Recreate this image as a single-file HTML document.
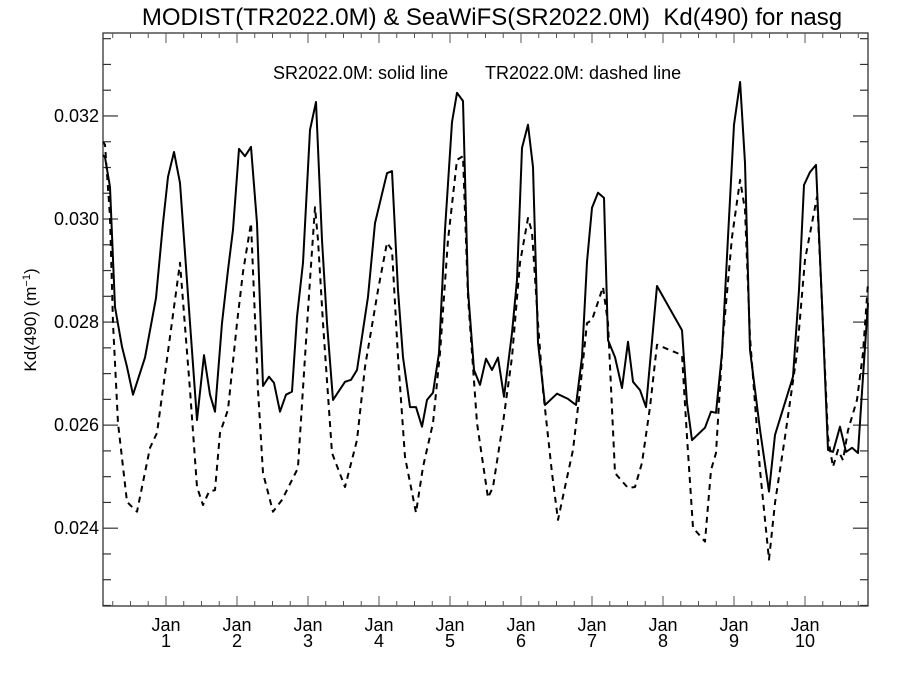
<!DOCTYPE html>
<html><head><meta charset="utf-8"><style>
html,body{margin:0;padding:0;background:#fff;}
svg{display:block;font-family:"Liberation Sans",Arial,sans-serif;}
</style></head><body>
<svg id="chart" width="900" height="675" viewBox="0 0 900 675" xmlns="http://www.w3.org/2000/svg">
<text x="492" y="25" font-size="24" text-anchor="middle" xml:space="preserve" style="white-space:pre">MODIST(TR2022.0M) &amp; SeaWiFS(SR2022.0M)  Kd(490) for nasg</text>
<text x="273" y="79" font-size="18">SR2022.0M: solid line</text>
<text x="485" y="79" font-size="18">TR2022.0M: dashed line</text>
<text transform="translate(36,320) rotate(-90)" font-size="17" text-anchor="middle">Kd(490) (m<tspan dy="-6" font-size="11">−1</tspan><tspan dy="6">)</tspan></text>
<g id="axes"></g>
<g id="series"></g>
</svg>
<script>
const yTickValues=[0.024,0.026,0.028,0.030,0.032];
const yTickLabels=["0.024","0.026","0.028","0.030","0.032"];
const xTickYears=[1,2,3,4,5,6,7,8,9,10];
const xTickLabels=["1","2","3","4","5","6","7","8","9","10"];
const solidT=[0.113,0.141,0.211,0.282,0.380,0.451,0.535,0.704,0.859,0.958,1.028,1.113,1.197,1.338,1.437,1.535,1.620,1.690,1.789,1.873,1.944,2.028,2.113,2.197,2.282,2.366,2.451,2.521,2.606,2.690,2.775,2.845,2.930,3.028,3.113,3.197,3.268,3.352,3.521,3.606,3.690,3.845,3.944,4.113,4.183,4.268,4.338,4.437,4.521,4.606,4.676,4.761,4.845,4.930,5.028,5.099,5.183,5.254,5.338,5.423,5.507,5.592,5.676,5.761,5.873,5.944,6.014,6.099,6.169,6.239,6.338,6.507,6.662,6.775,6.859,6.930,7.000,7.085,7.169,7.225,7.324,7.423,7.507,7.577,7.676,7.761,7.915,8.268,8.338,8.408,8.592,8.676,8.746,8.831,8.915,9.000,9.085,9.155,9.225,9.366,9.493,9.577,9.831,9.915,9.986,10.070,10.155,10.239,10.324,10.394,10.493,10.577,10.662,10.746,10.817,10.887];
const solidV=[0.03124,0.03120,0.03062,0.02829,0.02752,0.02713,0.02659,0.02731,0.02847,0.02992,0.03082,0.03130,0.03070,0.02798,0.02610,0.02736,0.02659,0.02626,0.02798,0.02901,0.02979,0.03136,0.03122,0.03140,0.02992,0.02676,0.02694,0.02682,0.02626,0.02659,0.02665,0.02810,0.02915,0.03173,0.03227,0.02959,0.02798,0.02649,0.02684,0.02688,0.02707,0.02849,0.02992,0.03089,0.03093,0.02862,0.02732,0.02635,0.02635,0.02597,0.02649,0.02663,0.02740,0.02979,0.03188,0.03245,0.03229,0.02862,0.02707,0.02678,0.02729,0.02707,0.02731,0.02655,0.02779,0.02882,0.03138,0.03183,0.03101,0.02760,0.02639,0.02661,0.02651,0.02639,0.02732,0.02917,0.03022,0.03051,0.03041,0.02765,0.02732,0.02672,0.02762,0.02684,0.02668,0.02635,0.02870,0.02784,0.02643,0.02571,0.02595,0.02626,0.02624,0.02740,0.02965,0.03183,0.03266,0.03109,0.02746,0.02591,0.02471,0.02581,0.02694,0.02862,0.03066,0.03091,0.03105,0.02837,0.02552,0.02548,0.02597,0.02548,0.02556,0.02546,0.02694,0.02837];
const dashT=[0.113,0.141,0.211,0.254,0.324,0.451,0.592,0.775,0.873,1.197,1.338,1.437,1.521,1.606,1.690,1.761,1.873,2.000,2.085,2.197,2.296,2.366,2.507,2.634,2.845,2.859,2.958,3.028,3.099,3.141,3.211,3.338,3.521,3.690,3.803,3.986,4.113,4.183,4.268,4.366,4.521,4.620,4.761,4.859,4.972,5.099,5.183,5.254,5.380,5.535,5.606,5.746,5.873,5.986,6.099,6.155,6.239,6.310,6.437,6.521,6.620,6.732,6.831,6.930,7.000,7.155,7.225,7.324,7.507,7.606,7.704,7.817,7.915,8.268,8.338,8.423,8.592,8.676,8.746,8.845,8.972,9.085,9.155,9.225,9.366,9.493,9.577,9.718,9.887,10.000,10.169,10.239,10.324,10.394,10.465,10.535,10.606,10.732,10.817,10.887];
const dashV=[0.03150,0.03144,0.03004,0.02798,0.02604,0.02451,0.02432,0.02556,0.02585,0.02915,0.02668,0.02480,0.02445,0.02471,0.02474,0.02585,0.02630,0.02798,0.02897,0.02992,0.02668,0.02507,0.02432,0.02455,0.02513,0.02519,0.02732,0.02882,0.03023,0.02959,0.02798,0.02546,0.02480,0.02571,0.02713,0.02862,0.02954,0.02940,0.02732,0.02538,0.02430,0.02519,0.02604,0.02740,0.02959,0.03115,0.03122,0.02849,0.02604,0.02459,0.02480,0.02604,0.02732,0.02915,0.03002,0.02975,0.02798,0.02668,0.02507,0.02416,0.02480,0.02552,0.02668,0.02798,0.02804,0.02868,0.02798,0.02507,0.02478,0.02480,0.02527,0.02635,0.02756,0.02736,0.02577,0.02401,0.02374,0.02513,0.02546,0.02771,0.02965,0.03076,0.03018,0.02771,0.02513,0.02339,0.02449,0.02577,0.02740,0.02921,0.03043,0.02837,0.02577,0.02519,0.02552,0.02532,0.02590,0.02649,0.02740,0.02876];

const NS="http://www.w3.org/2000/svg";
const L=103,R=868,T=33,B=606;
const X0=0.113,X1=10.887,Y0=0.02249,Y1=0.03361;
function xs(t){return L+(t-X0)/(X1-X0)*(R-L);}
function ys(v){return B-(v-Y0)/(Y1-Y0)*(B-T);}
const axes=document.getElementById('axes');
const series=document.getElementById('series');
function mk(tag,attrs,parent){const e=document.createElementNS(NS,tag);for(const k in attrs)e.setAttribute(k,attrs[k]);parent.appendChild(e);return e;}

const frame=mk('rect',{x:L,y:T,width:R-L,height:B-T,fill:'none',stroke:'#333','stroke-width':1.3},axes);



for(let v=0.0225;v<=0.03361;v+=0.0005){
  const y=ys(v);const major=Math.abs(Math.round(v*1000)/1000-v)<1e-7 && Math.round(v*1000)%2===0;
  const len=major?15:8;
  const t1=mk('line',{x1:L,x2:L+len,y1:y,y2:y,stroke:'#333','stroke-width':1.2},axes);
  
  
  const t2=mk('line',{x1:R,x2:R-len,y1:y,y2:y,stroke:'#333','stroke-width':1.2},axes);
  
  
}
yTickValues.forEach((v,i)=>{
  const tx=mk('text',{x:L-4,y:ys(v)+6,'font-size':18,'text-anchor':'end'},axes);
  tx.textContent=yTickLabels[i];
  
  
});
for(let q=1;q<=43;q++){
  const t=q*0.25;if(t<X0||t>X1)continue;
  const x=xs(t);const major=q%4===0;const len=major?10:5;
  const a=mk('line',{x1:x,x2:x,y1:B,y2:B-len,stroke:'#555','stroke-width':1},axes);
  
  
  const b=mk('line',{x1:x,x2:x,y1:T,y2:T+len,stroke:'#555','stroke-width':1},axes);
  
  
}
xTickYears.forEach((yr,i)=>{
  const x=xs(yr);
  const a=mk('text',{x:x,y:B+25,'font-size':18,'text-anchor':'middle'},axes);
  a.textContent='Jan';
  
  
  const b=mk('text',{x:x,y:B+41,'font-size':18,'text-anchor':'middle'},axes);
  b.textContent=xTickLabels[i];
  
  
});
function line(T_,V_,dash,name){
  const pts=T_.map((t,i)=>xs(t).toFixed(1)+','+ys(V_[i]).toFixed(1)).join(' ');
  const p=mk('polyline',{points:pts,fill:'none',stroke:'#000','stroke-width':2,'stroke-linejoin':'round'},series);
  if(dash)p.setAttribute('stroke-dasharray','6,5');
  
  
}
line(solidT,solidV,false,'seawifs-sr2022-solid-line');
line(dashT,dashV,true,'modist-tr2022-dashed-line');
</script>
</body></html>
